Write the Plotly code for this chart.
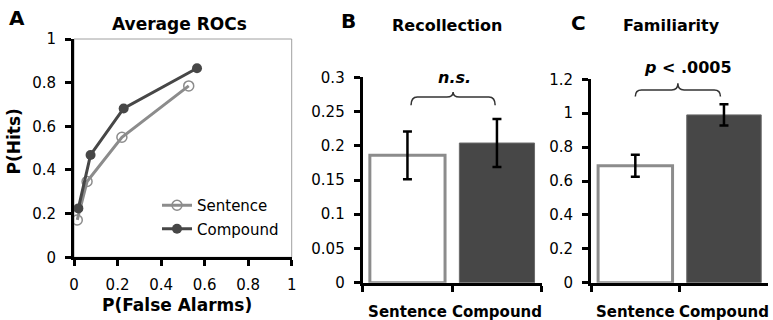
import plotly.graph_objects as go

# ---------------- data ----------------
roc_fa_sentence = [0.015, 0.06, 0.22, 0.527]
roc_hit_sentence = [0.171, 0.347, 0.55, 0.785]
roc_fa_compound = [0.02, 0.076, 0.228, 0.565]
roc_hit_compound = [0.224, 0.469, 0.682, 0.866]

categories = ["Sentence", "Compound"]
recollection = [0.186, 0.204]
recollection_err = [0.035, 0.035]
familiarity = [0.69, 0.99]
familiarity_err = [0.065, 0.063]

roc_ticks = [0, 0.2, 0.4, 0.6, 0.8, 1]
rec_ticks = [0, 0.05, 0.1, 0.15, 0.2, 0.25, 0.3]
fam_ticks = [0, 0.2, 0.4, 0.6, 0.8, 1, 1.2]

FONT = "DejaVu Sans"
LIGHT = "#8c8c8c"
DARK = "#474747"
W, H = 773, 320

fig = go.Figure()

# ---------------- panel A ----------------
fig.add_trace(go.Scatter(
    x=roc_fa_sentence, y=roc_hit_sentence, name="Sentence",
    mode="lines+markers", legendgroup="s",
    line=dict(color=LIGHT, width=3),
    marker=dict(symbol="circle-open", size=10, color=LIGHT, line=dict(width=1.5, color=LIGHT)),
    xaxis="x", yaxis="y"))
fig.add_trace(go.Scatter(
    x=roc_fa_compound, y=roc_hit_compound, name="Compound",
    mode="lines+markers", legendgroup="c",
    line=dict(color=DARK, width=3),
    marker=dict(symbol="circle", size=10, color=DARK),
    xaxis="x", yaxis="y"))

# ---------------- panel B ----------------
fig.add_trace(go.Bar(
    x=categories, y=recollection, width=0.84, showlegend=False,
    marker=dict(color=["white", DARK], line=dict(color=[LIGHT, "#6a6a6a"], width=[3, 1])),
    error_y=dict(type="data", array=recollection_err, color="black", thickness=2.5, width=4.5),
    xaxis="x2", yaxis="y2"))

# ---------------- panel C ----------------
fig.add_trace(go.Bar(
    x=categories, y=familiarity, width=0.84, showlegend=False,
    marker=dict(color=["white", DARK], line=dict(color=[LIGHT, "#6a6a6a"], width=[3, 1])),
    error_y=dict(type="data", array=familiarity_err, color="black", thickness=2.5, width=4.5),
    xaxis="x3", yaxis="y3"))


def px_x(p):
    return p / W


def px_y(p):
    return (H - p) / H


tickfont = dict(family=FONT, size=15, color="black")
axis_common = dict(showline=True, linecolor="black", linewidth=3, ticks="outside",
                   ticklen=6, tickwidth=3, tickcolor="black", showgrid=False,
                   zeroline=False, tickfont=tickfont, fixedrange=True,
                   automargin=False, tickangle=0)
cat_font = dict(family=FONT, size=15, color="black", weight="bold")

fig.update_layout(
    width=W, height=H, margin=dict(l=0, r=0, t=0, b=0, autoexpand=False),
    paper_bgcolor="white", plot_bgcolor="white",
    font=dict(family=FONT, color="black"),
    showlegend=True,
    legend=dict(x=px_x(157), y=px_y(189), xanchor="left", yanchor="top",
                font=dict(family=FONT, size=15, color="black"),
                bgcolor="rgba(0,0,0,0)", tracegroupgap=1, traceorder="grouped",
                itemwidth=30),
    xaxis=dict(domain=[px_x(74), px_x(291.7)], range=[0, 1], tickvals=roc_ticks,
               ticklabelstandoff=6, anchor="y", **axis_common),
    yaxis=dict(domain=[px_y(257.3), px_y(39)], range=[0, 1], tickvals=roc_ticks,
               ticklabelstandoff=6, anchor="x", **axis_common),
    xaxis2=dict(domain=[px_x(362.7), px_x(541.7)], range=[-0.5, 1.5], type="category",
                tickson="boundaries", anchor="y2", ticklabelstandoff=13,
                **{**axis_common, "tickfont": cat_font}),
    yaxis2=dict(domain=[px_y(282.7), px_y(77.3)], range=[0, 0.3], tickvals=rec_ticks,
                ticklabelstandoff=6, anchor="x2", **axis_common),
    xaxis3=dict(domain=[px_x(591), px_x(768.3)], range=[-0.5, 1.5], type="category",
                tickson="boundaries", anchor="y3", ticklabelstandoff=13,
                **{**axis_common, "tickfont": cat_font}),
    yaxis3=dict(domain=[px_y(282.7), px_y(79.3)], range=[0, 1.2], tickvals=fam_ticks,
                ticklabelstandoff=6, anchor="x3", **axis_common),
    bargap=0.14,
)

# gray box around panel A
fig.add_shape(type="rect", xref="x domain", yref="y domain", x0=0, x1=1, y0=0, y1=1,
              line=dict(color="#a0a0a0", width=1), layer="below")


def brace_path(x0, x1, xc, ye, yh, yp, dx):
    return (f"M {x0},{ye} Q {x0},{yh} {x0+dx},{yh} L {xc-dx},{yh} "
            f"Q {xc},{yh} {xc},{yp} Q {xc},{yh} {xc+dx},{yh} "
            f"L {x1-dx},{yh} Q {x1},{yh} {x1},{ye}")


fig.add_shape(type="path", xref="x2", yref="y2",
              path=brace_path(0.04, 0.98, 0.51, 0.259, 0.2713, 0.2786, 0.07),
              line=dict(color="#333333", width=1.5))
fig.add_shape(type="path", xref="x3", yref="y3",
              path=brace_path(0.0, 0.96, 0.48, 1.098, 1.1375, 1.177, 0.07),
              line=dict(color="#333333", width=1.5))

def ann(text, x, y, size, angle=0):
    fig.add_annotation(text=text, x=px_x(x), y=px_y(y), xref="paper", yref="paper",
                       showarrow=False, xanchor="center", yanchor="middle",
                       textangle=angle, font=dict(family=FONT, size=size, color="black"))

ann("<b>A</b>", 16.7, 18, 20)
ann("<b>Average ROCs</b>", 179, 24, 17)
ann("<b>P(False Alarms)</b>", 176.7, 305, 17)
ann("<b>P(Hits)</b>", 13.5, 142, 17, -90)
ann("<b>B</b>", 348.3, 21, 20)
ann("<b>Recollection</b>", 446.7, 25, 16)
ann("<b>C</b>", 578.3, 22.5, 20)
ann("<b>Familiarity</b>", 671.7, 25, 16)
ann("<b><i>n.s.</i></b>", 454.7, 77, 16)
ann("<b><i>p</i> &lt; .0005</b>", 687.5, 67.3, 16)

fig.write_html("out.html", config={"displayModeBar": False},
               post_script="document.body.style.margin='0';document.body.style.overflow='hidden';")
